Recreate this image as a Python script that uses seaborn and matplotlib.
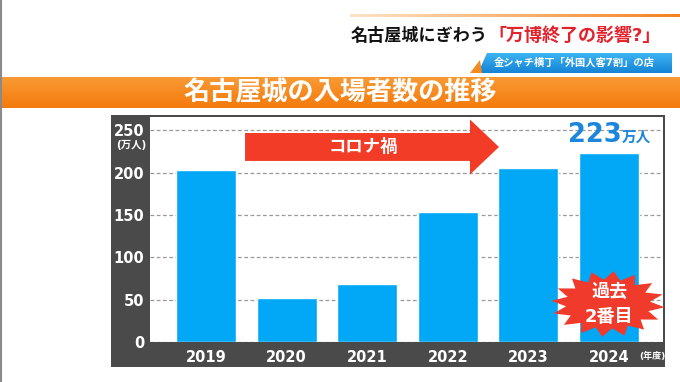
import numpy as np
import pandas as pd
import matplotlib.pyplot as plt
import seaborn as sns
from matplotlib.colors import LinearSegmentedColormap
from matplotlib.patches import Polygon, Rectangle

years = ['2019', '2020', '2021', '2022', '2023', '2024']
visitors = [203, 52, 69, 153, 206, 223]   # 万人
yticks = [0, 50, 100, 150, 200, 250]

sns.set_theme(style="white")
plt.rcParams['font.family'] = ['DejaVu Sans', 'Noto Sans CJK JP']

W, H = 680, 382
fig = plt.figure(figsize=(6.8, 3.82), dpi=100)
fig.patch.set_facecolor('white')

# background axes in pixel coords (y down)
bg = fig.add_axes([0, 0, 1, 1], zorder=0)
bg.set_xlim(0, W)
bg.set_ylim(H, 0)
bg.axis('off')

# header line + title
bg.imshow(np.linspace(0, 1, 256).reshape(1, -1), extent=(350, 680, 17, 14), aspect='auto',
          cmap=LinearSegmentedColormap.from_list('o', ['#fde3c8', '#f58220']))
t1 = bg.text(351, 36, '名古屋城にぎわう', fontsize=12.3, fontweight='bold', color='#111111',
             ha='left', va='center')
bg.annotate('「万博終了の影響?」', xy=(1, 0.5), xycoords=t1, va='center', ha='left',
            fontsize=13, fontweight='bold', color='#e3232b')

# subtitle box
sub = Polygon([(478, 73), (487, 53), (672, 53), (672, 73)], closed=True, facecolor='none', edgecolor='none')
bg.add_patch(sub)
im = bg.imshow(np.linspace(0, 1, 64).reshape(-1, 1), extent=(470, 672, 73, 53), aspect='auto',
               cmap=LinearSegmentedColormap.from_list('b', ['#3db4f2', '#1583d6']))
im.set_clip_path(sub)
bg.add_patch(Polygon([(470, 73), (480, 60), (482, 73)], closed=True, facecolor='#f58a1f', edgecolor='none'))
bg.text(574, 63, '金シャチ横丁「外国人客7割」の店', fontsize=7.4, fontweight='bold', color='white',
        ha='center', va='center')

# orange banner
bg.imshow(np.linspace(0, 1, 64).reshape(-1, 1), extent=(0, 680, 108, 77), aspect='auto',
          cmap=LinearSegmentedColormap.from_list('or', ['#f99a34', '#f47a0c']))
bg.text(340, 93, '名古屋城の入場者数の推移', fontsize=18.8, fontweight='bold', color='white',
        ha='center', va='center')

# dark chart frame
bg.add_patch(Rectangle((111, 115), 554, 252, facecolor='#4a4a4a', edgecolor='none'))
bg.plot([1, 1], [0, H], color='#8a8a8a', lw=1.5)

# chart axes
ax = fig.add_axes([150 / W, (H - 342) / H, 513 / W, 225 / H], zorder=1)
ax.set_facecolor('white')
df = pd.DataFrame({'year': years, 'visitors': visitors})
sns.barplot(data=df, x='year', y='visitors', color='#02a8f6', saturation=1, width=0.744, ax=ax, zorder=2)
ax.set_xlim(-0.695, 5.67)
ax.set_ylim(0, 265.7)
ax.set_yticks(yticks)
ax.set_yticklabels([str(v) for v in yticks])
ax.set_xlabel('')
ax.set_ylabel('')
for s in ax.spines.values():
    s.set_visible(False)
ax.yaxis.grid(True, linestyle=(0, (3, 2)), color='#9a9a9a', lw=0.9, zorder=0)
ax.set_axisbelow(True)
ax.tick_params(axis='y', length=0, pad=4, labelcolor='white', labelsize=10.5)
ax.tick_params(axis='x', length=0, pad=6, labelcolor='white', labelsize=10.5)
for lab in ax.get_yticklabels() + ax.get_xticklabels():
    lab.set_fontweight('bold')

bg.text(146, 145, '(万人)', fontsize=7.5, fontweight='bold', color='white', ha='right', va='center')
bg.text(652, 356, '(年度)', fontsize=6.5, fontweight='bold', color='white', ha='center', va='center')

# corona arrow (data coords)
arrow = Polygon([(0.484, 230.3 - 16.5), (0.484, 230.3 + 16.5), (3.275, 230.3 + 16.5),
                 (3.275, 230.3 + 32.5), (3.635, 230.3), (3.275, 230.3 - 32.5),
                 (3.275, 230.3 - 16.5)], closed=True, facecolor='#f23c28', edgecolor='none', zorder=3)
ax.add_patch(arrow)
ax.text(1.95, 230.3, 'コロナ禍', fontsize=12.5, fontweight='bold', color='white', ha='center', va='center', zorder=4)

# 223万人 label
t2 = ax.annotate('223', xy=(5, visitors[-1]), xytext=(-10, 4), textcoords='offset points',
                 ha='center', va='bottom', fontsize=18.5, fontweight='bold', color='#1a86dc')
ax.annotate('万人', xy=(1, 0.12), xycoords=t2, ha='left', va='bottom', fontsize=10.5,
            fontweight='bold', color='#1a86dc')

# starburst
n = 16
ang = np.linspace(0, 2 * np.pi, 2 * n, endpoint=False) + 0.1
r = np.where(np.arange(2 * n) % 2 == 0, 1.0, 0.74)
pts = np.column_stack([608 + 57 * r * np.cos(ang), 304 + 33 * r * np.sin(ang)])
burst = Polygon(pts, closed=True, facecolor='#ef3a2c', edgecolor='none', zorder=5,
                transform=bg.transData, clip_on=False)
ax.add_patch(burst)
ax.text(609, 292, '過去', fontsize=13, fontweight='bold', color='white', ha='center', va='center',
        transform=bg.transData, zorder=6)
ax.text(609, 317, '2番目', fontsize=13, fontweight='bold', color='white', ha='center', va='center',
        transform=bg.transData, zorder=6)

fig.savefig('out.png', dpi=100)
plt.close(fig)
